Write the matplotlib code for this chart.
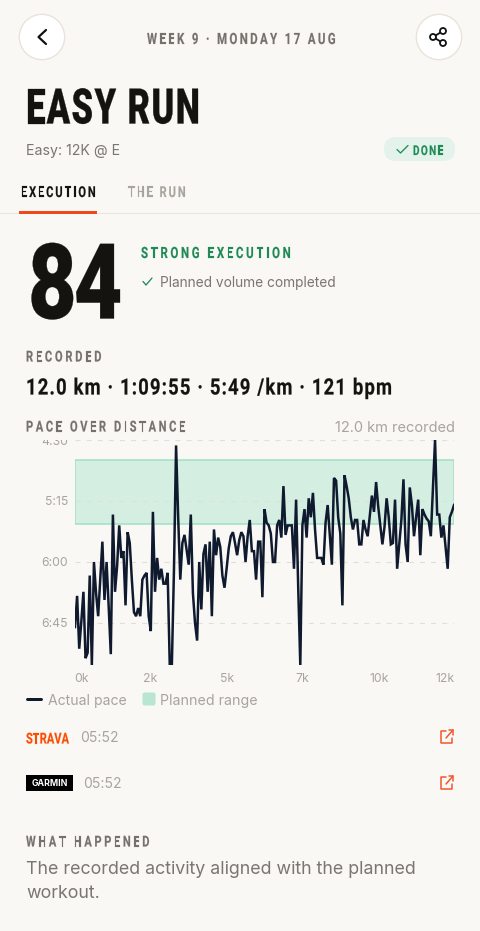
import numpy as np
import matplotlib
matplotlib.use("Agg")
import matplotlib.pyplot as plt
from matplotlib.patches import Circle, FancyBboxPatch, Rectangle
from matplotlib.transforms import Bbox
from matplotlib.path import Path
from matplotlib.patheffects import AbstractPathEffect
from matplotlib.font_manager import FontProperties
from matplotlib.textpath import text_to_path

# ---------- data ----------
pace_sec = [408,385,424,404,382,431,427,370,436,360,383,400,373,345,388,360,393,428,325,382,
            363,333,357,352,392,338,346,373,397,400,394,400,373,370,368,400,411,323,382,357,
            373,365,376,376,368,436,436,366,274,
            327,373,346,340,351,362,325,383,405,418,360,395,354,347,382,345,400,336,355,342,
            349,370,379,365,350,341,338,346,355,344,338,341,360,341,329,352,352,373,345,345,
            386,321,331,333,339,360,360,333,329,342,304,340,333,333,333,365,314,378,436,333,
            321,342,313,327,309,336,357,
            357,357,362,331,318,340,362,298,300,327,339,392,296,304,313,327,336,329,329,347,
            347,329,336,341,326,311,323,301,319,333,347,334,313,327,347,346,314,365,347,329,
            299,347,360,305,318,341,327,314,355,321,325,328,330,341,305,270,325,325,342,333,
            349,365,327,323,318]
total_km = 12.0
planned_fast, planned_slow = 285, 332
y_ticks = [270, 315, 360, 405]
y_labels = ["4:30", "5:15", "6:00", "6:45"]
x_tick_km = [0.19, 2.39, 4.80, 7.21, 9.63, 11.72]
x_labels = ["0k", "2k", "5k", "7k", "10k", "12k"]
km = np.arange(len(pace_sec)) * total_km / (len(pace_sec) - 1)

# ---------- colours / fonts ----------
BG = "#FAF8F5"; INK = "#14130F"; GREY = "#7A7670"; LIGHT = "#A8A49E"
GREEN = "#1E8A55"; ORANGE = "#F0481A"; NAVY = "#0F1A2E"; LABEL = "#75716B"
COND = ["Roboto", "DejaVu Sans"]
BODY = ["Inter", "DejaVu Sans"]
PX = 0.72

class Condense(AbstractPathEffect):
    """Draws a real Text narrower and letter-spaced to a target width."""
    def __init__(self, s, prop, sx, width_units, stroke):
        super().__init__()
        self.parts = []
        self.stroke = stroke
        font = text_to_path._get_font(prop)
        info, _, _ = text_to_path.get_glyphs_with_font(font, s)
        xpos = [g[1] for g in info]
        glyphs = [text_to_path.get_text_path(prop, ch) for ch in s]
        last_v = np.asarray(glyphs[-1][0])
        natural = (xpos[-1] + (last_v[:, 0].max() if len(last_v) else 0)) * sx
        track = (width_units - natural) / max(len(s) - 1, 1)
        for i, (v, c) in enumerate(glyphs):
            v = np.array(v, dtype=float)
            if len(v) == 0:
                continue
            v[:, 0] = v[:, 0] * sx + xpos[i] * sx + track * i
            self.parts.append(Path(v, c))

    def draw_path(self, renderer, gc, tpath, affine, rgbFace=None):
        gc0 = renderer.new_gc()
        gc0.copy_properties(gc)
        gc0.set_linewidth(self.stroke)
        gc0.set_foreground(rgbFace)
        for p in self.parts:
            renderer.draw_path(gc0, p, affine, rgbFace)
        gc0.restore()

fig = plt.figure(figsize=(4.8, 9.31), dpi=100, facecolor=BG)
ui = fig.add_axes([0, 0, 1, 1], zorder=0)
ui.set_xlim(0, 480); ui.set_ylim(931, 0); ui.axis("off")

def T(x, y, s, px, color=GREY, family=BODY, weight="normal", ha="left"):
    return ui.text(x, y, s, fontsize=px * PX, color=color, family=family, weight=weight,
                   ha=ha, va="center_baseline")

def C(x0, x1, y, s, px, color, sx=0.74, weight="bold", stroke=0.12):
    t = T(x0, y, s, px, color, COND, weight)
    prop = FontProperties(family=COND, weight=weight, size=px * PX)
    t.set_path_effects([Condense(s, prop, sx, (x1 - x0) * 100 / px, stroke)])
    return t

def L(xs, ys, color, lw=1.5):
    ui.plot(xs, ys, color=color, lw=lw * PX, solid_capstyle="round",
            solid_joinstyle="round")

# header
for cx in (42, 439):
    ui.add_patch(Circle((cx, 37), 22.7, fc="#FFFFFF", ec="#E9E3DA", lw=1))
L([46, 38.5, 46], [30, 37, 44], "#111111", 2.2)
L([443, 433, 443], [31, 37, 43], "#111111", 1.8)
for p in [(443, 31), (433, 37), (443, 43)]:
    ui.add_patch(Circle(p, 3, fc="#FFFFFF", ec="#111111", lw=1.3, zorder=3))
C(147, 335, 38, "WEEK 9 · MONDAY 17 AUG", 15.5, LABEL)
C(26, 198, 105.5, "EASY RUN", 49, INK, 0.70, 900, 0.2)
T(26, 149, "Easy: 12K @ E", 14.2, GREY)
ui.add_patch(FancyBboxPatch((384, 137), 71, 24, boxstyle="round,pad=0,rounding_size=12",
                            fc="#E3F3EB", ec="none"))
L([397, 400.5, 408], [149.5, 153, 145.5], GREEN, 1.3)
C(413, 443, 149.5, "DONE", 13.5, GREEN)
C(21, 95, 191.5, "EXECUTION", 15, INK)
C(128, 185, 191.5, "THE RUN", 15, LIGHT)
ui.add_patch(Rectangle((0, 213), 480, 1.2, fc="#E8E4DE", ec="none"))
ui.add_patch(Rectangle((19, 211.2), 78, 3, fc=ORANGE, ec="none"))

# score
C(28, 120, 279, "84", 105, INK, 0.80, 900, 0.2)
C(141, 290, 252, "STRONG EXECUTION", 15.5, GREEN)
L([143, 146, 152], [281.5, 285, 278], GREEN, 1.3)
T(160, 282, "Planned volume completed", 13.7, GREY)
C(26, 101, 356, "RECORDED", 15, LABEL)
C(26, 391, 386, "12.0 km · 1:09:55 · 5:49 /km · 121 bpm", 22.5, INK, 0.82, "bold", 0.15)
C(26, 185, 426, "PACE OVER DISTANCE", 15, LABEL)
T(454.5, 426, "12.0 km recorded", 14.6, LIGHT, BODY, "normal", "right")

# chart
X0, X1, Y0, Y1 = 75, 454, 440, 665
ax = fig.add_axes([X0 / 480, 1 - Y1 / 931, (X1 - X0) / 480, (Y1 - Y0) / 931], zorder=1)
ax.patch.set_alpha(0)
ax.set_xlim(0, total_km); ax.set_ylim(436, 270)
for s in ax.spines.values():
    s.set_visible(False)
ax.axhspan(planned_fast, planned_slow, fc="#D4EEE2", ec="#9FE0C4", lw=1.1, zorder=1)
ax.set_yticks(y_ticks, y_labels)
ax.set_xticks(x_tick_km, x_labels)
ax.tick_params(axis="both", length=0, labelsize=12.2 * PX, labelcolor=LIGHT)
ax.tick_params(axis="y", pad=5)
ax.tick_params(axis="x", pad=6)
for lb in ax.get_yticklabels() + ax.get_xticklabels():
    lb.set_family(BODY)
ax.set_axisbelow(False)
ax.grid(axis="y", color="#E3DFD8", lw=0.8, ls=(0, (4.5, 5.5)))
ax.plot(km, pace_sec, color=NAVY, lw=2.5 * PX, solid_joinstyle="miter", zorder=4)
fig.canvas.draw()
clip = Bbox.from_extents(0, 0, 74, 931 - 440)
for lb in ax.get_yticklabels():
    lb.set_clip_on(True)
    lb.set_clip_box(clip)

# legend
L([27, 41], [699, 699], NAVY, 3)
T(48, 699.5, "Actual pace", 14, LIGHT)
ui.add_patch(FancyBboxPatch((144, 694), 10, 10, boxstyle="round,pad=1.5,rounding_size=2",
                            fc="#B8E6D2", ec="none"))
T(160, 699.5, "Planned range", 14.2, LIGHT)

# sources
C(26, 69, 738, "STRAVA", 15, "#FC4C02")
T(80, 737, "05:52", 14, LIGHT)
ui.add_patch(Rectangle((26, 775), 47, 16, fc="#000000", ec="none"))
T(49.5, 783, "GARMIN", 8.8, "#FFFFFF", BODY, "bold", "center")
T(83, 783, "05:52", 14, LIGHT)
for cy in (737, 783):
    L([446, 441, 441, 452, 452], [cy - 6, cy - 6, cy + 6, cy + 6, cy + 1], "#F0552A", 1.5)
    L([446, 453], [cy + 1, cy - 7], "#F0552A", 1.5)
    L([448.5, 453, 453], [cy - 7, cy - 7, cy - 2.5], "#F0552A", 1.5)

C(26, 149, 841, "WHAT HAPPENED", 15, LABEL)
T(26, 867, "The recorded activity aligned with the planned", 17.8, GREY)
T(26, 892, "workout.", 17.8, GREY)

fig.savefig("out.png", dpi=100, facecolor=BG)
